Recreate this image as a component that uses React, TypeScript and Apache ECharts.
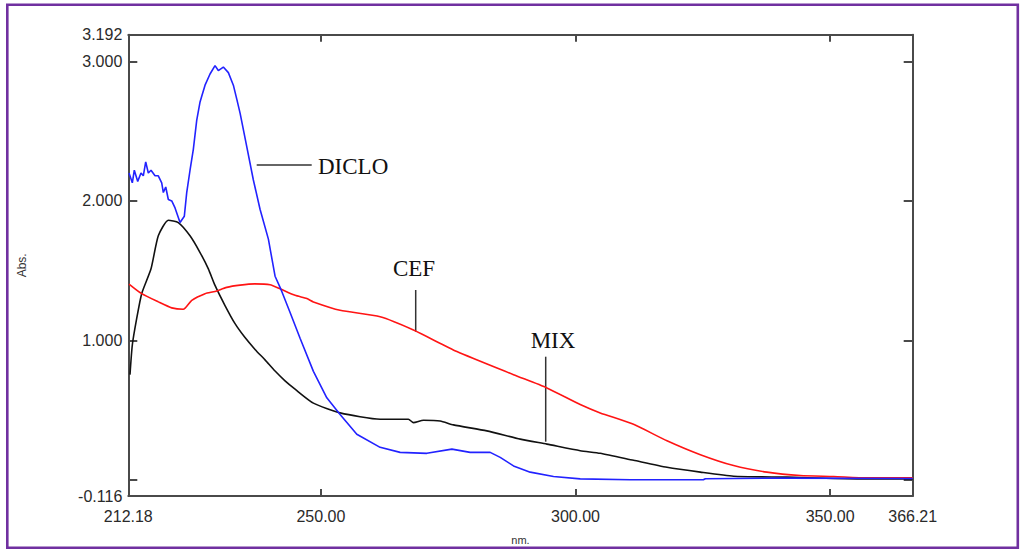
import React, { useEffect, useRef } from "react";
import * as echarts from "echarts";

// wavelength (nm), absorbance
const dicloData: [number, number][] = [
  [212.32, 2.2], [212.97, 2.13], [213.36, 2.22], [214.03, 2.14], [214.67, 2.2], [215.13, 2.18],
  [215.6, 2.28], [216.11, 2.2], [216.64, 2.22], [217.43, 2.18], [218.07, 2.18], [218.74, 2.13],
  [219.06, 2.06], [219.53, 2.1], [220.04, 2.01], [220.71, 2.0], [221.36, 1.95], [222.34, 1.845],
  [223.18, 1.89], [223.65, 2.06], [224.3, 2.22], [224.95, 2.37], [225.62, 2.58], [226.27, 2.71],
  [226.6, 2.75], [227.25, 2.83], [228.23, 2.91], [229.21, 2.97], [229.86, 2.935], [230.84, 2.96],
  [231.83, 2.92], [232.81, 2.83], [233.48, 2.73], [234.13, 2.63], [235.44, 2.39], [236.74, 2.15],
  [238.05, 1.94], [239.69, 1.726], [241.0, 1.46], [241.98, 1.38], [242.32, 1.35], [243.95, 1.2],
  [245.91, 1.015], [248.53, 0.778], [251.16, 0.588], [253.77, 0.469], [257.05, 0.327],
  [261.63, 0.233], [265.56, 0.197], [270.8, 0.19], [275.72, 0.22], [279.31, 0.197],
  [283.24, 0.197], [285.21, 0.161], [287.82, 0.1], [291.1, 0.055], [295.68, 0.024],
  [300.92, 0.007], [310.75, 0.0], [325.1, 0.0], [325.5, 0.008], [340.8, 0.012], [366.21, 0.01],
];

const cefData: [number, number][] = [
  [212.32, 1.404], [214.81, 1.335], [218.07, 1.276], [220.71, 1.233], [222.99, 1.223],
  [224.64, 1.287], [227.25, 1.335], [229.21, 1.351], [231.5, 1.38], [234.13, 1.396],
  [237.0, 1.405], [240.02, 1.399], [241.98, 1.37], [244.93, 1.323], [247.23, 1.3], [248.53, 1.276],
  [253.77, 1.216], [261.63, 1.169], [268.17, 1.074], [276.7, 0.92], [287.82, 0.754],
  [294.38, 0.659], [300.92, 0.54], [304.85, 0.48], [311.39, 0.398], [317.96, 0.28],
  [324.52, 0.18], [331.04, 0.102], [337.6, 0.055], [344.15, 0.031], [350.69, 0.024],
  [357.26, 0.014], [366.21, 0.014],
];

const mixData: [number, number][] = [
  [212.51, 0.754], [212.97, 0.967], [213.83, 1.157], [214.81, 1.335], [216.64, 1.513],
  [218.07, 1.75], [220.04, 1.861], [222.0, 1.845], [224.3, 1.75], [226.27, 1.63],
  [227.9, 1.513], [229.21, 1.394], [231.17, 1.25], [233.14, 1.12], [235.1, 1.02],
  [237.07, 0.935], [239.03, 0.86], [241.0, 0.78], [242.96, 0.71], [244.93, 0.65],
  [248.53, 0.55], [253.77, 0.48], [261.63, 0.434], [267.19, 0.434], [268.17, 0.41],
  [270.14, 0.427], [273.42, 0.422], [276.03, 0.394], [282.59, 0.351], [289.14, 0.292],
  [294.38, 0.256], [300.92, 0.209], [304.85, 0.19], [311.39, 0.14], [317.96, 0.09],
  [324.52, 0.055], [331.04, 0.026], [341.53, 0.019], [355.29, 0.007], [366.21, 0.007],
];

const xMin = 212.18;
const xMax = 366.21;
const yMin = -0.116;
const yMax = 3.192;
const xLabelValues = [212.18, 250, 300, 350, 366.21];
const xTickValues = [250, 300, 350];
const yLabelValues = [-0.116, 1, 2, 3, 3.192];
const yTickValues = [0, 1, 2, 3];

const AXIS_COLOR = "#4a4a4a";
const LABEL_FONT = "Liberation Sans";

export default function App() {
  const ref = useRef<HTMLDivElement>(null);
  useEffect(() => {
    document.body.style.margin = "0";
    if (!ref.current) return;
    const chart = echarts.init(ref.current, null, { renderer: "svg" });
    const axisLine = { show: true, onZero: false, lineStyle: { color: AXIS_COLOR, width: 2 } };
    const serifText = { fontFamily: "Liberation Serif", fontSize: 23, fill: "#111" };
    chart.setOption({
      animation: false,
      backgroundColor: "#fff",
      grid: { left: 128.3, right: 109.3, top: 34.7, bottom: 51.3, containLabel: false },
      xAxis: [
        {
          type: "value",
          min: xMin,
          max: xMax,
          position: "bottom",
          name: "nm.",
          nameLocation: "middle",
          nameGap: 38,
          nameTextStyle: { fontFamily: LABEL_FONT, fontSize: 11, color: "#333" },
          axisLine,
          splitLine: { show: false },
          axisTick: { show: true, inside: true, length: 7, customValues: xTickValues, lineStyle: { color: AXIS_COLOR, width: 2 } },
          axisLabel: {
            customValues: xLabelValues,
            formatter: (v: number) => v.toFixed(2),
            fontFamily: LABEL_FONT,
            fontSize: 16,
            color: "#2a2a2a",
            margin: 12,
          },
        },
        {
          type: "value",
          min: xMin,
          max: xMax,
          position: "top",
          axisLine,
          splitLine: { show: false },
          axisTick: { show: true, inside: true, length: 7, customValues: xTickValues, lineStyle: { color: AXIS_COLOR, width: 2 } },
          axisLabel: { show: false },
        },
      ],
      yAxis: [
        {
          type: "value",
          min: yMin,
          max: yMax,
          position: "left",
          name: "Abs.",
          nameLocation: "middle",
          nameGap: 100,
          nameTextStyle: { fontFamily: LABEL_FONT, fontSize: 12, color: "#333" },
          axisLine,
          splitLine: { show: false },
          axisTick: { show: true, inside: true, length: 9, customValues: yTickValues, lineStyle: { color: AXIS_COLOR, width: 2 } },
          axisLabel: {
            customValues: yLabelValues,
            formatter: (v: number) => v.toFixed(3),
            fontFamily: LABEL_FONT,
            fontSize: 16,
            color: "#2a2a2a",
            margin: 6,
          },
        },
        {
          type: "value",
          min: yMin,
          max: yMax,
          position: "right",
          axisLine,
          splitLine: { show: false },
          axisTick: { show: true, inside: true, length: 9, customValues: yTickValues, lineStyle: { color: AXIS_COLOR, width: 2 } },
          axisLabel: { show: false },
        },
      ],
      series: [
        {
          name: "MIX",
          type: "line",
          data: mixData,
          showSymbol: false,
          smooth: 0.2,
          lineStyle: { color: "#111", width: 1.6 },
        },
        {
          name: "CEF",
          type: "line",
          data: cefData,
          showSymbol: false,
          smooth: 0.2,
          lineStyle: { color: "#ff1414", width: 1.6 },
        },
        {
          name: "DICLO",
          type: "line",
          data: dicloData,
          showSymbol: false,
          smooth: false,
          lineStyle: { color: "#2222ff", width: 1.6 },
        },
      ],
      graphic: [
        {
          type: "rect",
          shape: { x: 7.3, y: 4.7, width: 1010.5, height: 543 },
          style: { fill: "none", stroke: "#7030A0", lineWidth: 2.6 },
          silent: true,
        },
        { type: "line", shape: { x1: 256.7, y1: 165, x2: 311.7, y2: 165 }, style: { stroke: "#333", lineWidth: 1.5 } },
        { type: "text", x: 318, y: 166, style: { ...serifText, text: "DICLO", align: "left", verticalAlign: "middle" } },
        { type: "line", shape: { x1: 415.7, y1: 290, x2: 415.7, y2: 331.7 }, style: { stroke: "#333", lineWidth: 1.5 } },
        { type: "text", x: 414, y: 268, style: { ...serifText, text: "CEF", align: "center", verticalAlign: "middle" } },
        { type: "line", shape: { x1: 545.7, y1: 356.7, x2: 545.7, y2: 441.7 }, style: { stroke: "#333", lineWidth: 1.5 } },
        { type: "text", x: 553, y: 340.5, style: { ...serifText, text: "MIX", align: "center", verticalAlign: "middle" } },
      ],
    });
    return () => chart.dispose();
  }, []);
  return <div ref={ref} style={{ width: 1022, height: 550 }} />;
}
